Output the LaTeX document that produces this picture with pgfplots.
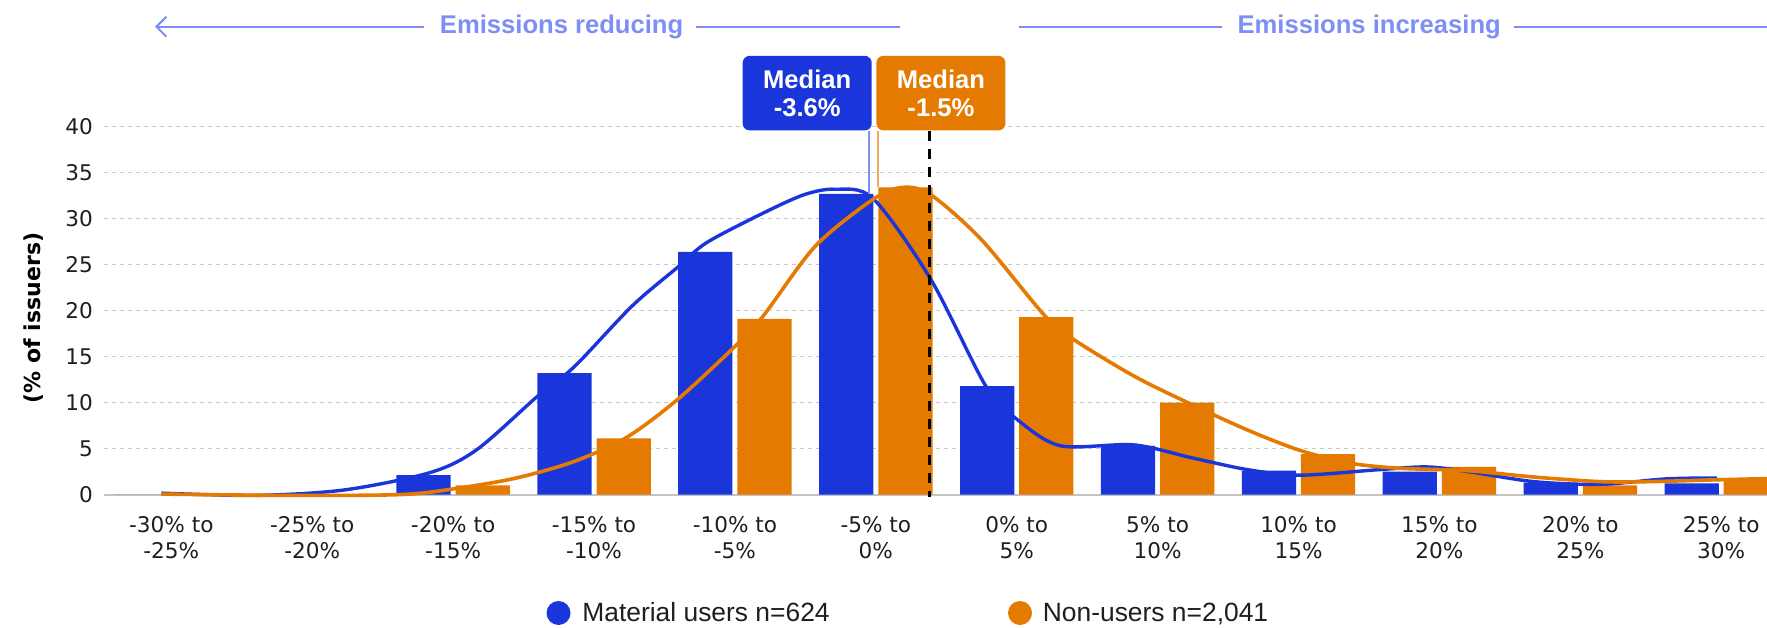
\documentclass[border=0pt]{standalone}
\usepackage{pgfplots}
\pgfplotsset{compat=1.18}
\usepackage{pgfplotstable}
\usepackage{fontspec}
\setmainfont{Liberation Sans}
\newfontfamily\dejavu{DejaVu Sans}
\usetikzlibrary{arrows.meta}
\definecolor{cblue}{RGB}{26,54,219}
\definecolor{corange}{RGB}{229,122,0}
\definecolor{chead}{RGB}{125,142,245}
\definecolor{cgrid}{RGB}{200,200,200}
\definecolor{caxis}{RGB}{195,195,195}
\definecolor{lblue}{RGB}{128,144,238}
\definecolor{lorange}{RGB}{240,170,100}
\definecolor{ctext}{RGB}{30,30,30}

\pgfplotstableread{
x blue orange
0  0    0
1  0    0
2  2.1  1.0
3  13.2 6.1
4  26.4 19.1
5  32.7 33.4
6  11.8 19.3
7  5.3  10.0
8  2.6  4.4
9  2.5  3.0
10 1.3  1.0
11 1.2  1.75
}\bars

\pgfplotstableread{
x y
-0.07 0.15
0.6 -0.1
1.23 0.5
1.84 2.4
2.17 4.9
2.6 10.7
2.86 13.9
3.27 20.5
3.6 24.8
3.8 27.4
4.2 30.6
4.49 32.6
4.71 33.2
4.98 32.2
5.39 23.4
5.78 11.8
6.0 8.2
6.31 5.3
6.83 5.4
7.24 4.0
7.64 2.7
8.01 2.1
8.57 2.7
8.91 3.0
9.2 2.5
9.67 1.4
10.14 1.1
10.61 1.7
10.97 1.8
}\bluecurve

\pgfplotstableread{
x y
-0.07 0.05
0.82 -0.1
1.64 0
2.04 0.7
2.45 1.8
2.86 3.6
3.23 6.2
3.59 10.3
4.0 16.1
4.2 19.4
4.57 27
4.98 32.1
5.19 33.4
5.39 32.6
5.75 27.7
6.19 19.6
6.39 17
6.83 12.9
7.24 9.8
7.64 7.0
8.01 4.8
8.37 3.4
8.72 2.85
9.19 2.6
9.67 1.9
10.14 1.4
10.5 1.4
10.97 1.6
11.4 1.75
}\orangecurve

\begin{document}
\begin{tikzpicture}
\begin{axis}[
  at={(0pt,0pt)}, anchor=south west,
  scale only axis, width=831.5pt, height=183.9pt,
  xmin=-0.478, xmax=11.325, ymin=0, ymax=40,
  clip=false,
  axis x line=bottom, axis y line=left,
  y axis line style={draw=none},
  x axis line style={-, draw=caxis, line width=1pt},
  xtick={0,...,11}, ytick={0,5,...,40},
  xticklabels={{-30\% to\\-25\%},{-25\% to\\-20\%},{-20\% to\\-15\%},{-15\% to\\-10\%},{-10\% to\\-5\%},{-5\% to\\0\%},{0\% to\\5\%},{5\% to\\10\%},{10\% to\\15\%},{15\% to\\20\%},{20\% to\\25\%},{25\% to\\30\%}},
  major tick length=0pt,
  ymajorgrids,
  grid style={cgrid, line width=0.6pt, dash pattern=on 2pt off 2pt},
  /pgf/number format/assume math mode=true,
  tick label style={font=\dejavu\fontsize{10.8}{13}\selectfont, text=ctext},
  xticklabel style={align=center, anchor=north, yshift=-7.5pt},
  yticklabel style={anchor=east, xshift=-2pt},
]
\addplot[ybar, bar width=0.385, bar shift=0pt, fill=cblue, draw=none]
  table[x expr=\thisrow{x}-0.21, y=blue] {\bars};
\addplot[ybar, bar width=0.385, bar shift=0pt, fill=corange, draw=none]
  table[x expr=\thisrow{x}+0.21, y=orange] {\bars};
\addplot[cblue, line width=1.7pt, smooth, tension=0.5, no marks] table[x=x,y=y] {\bluecurve};
\addplot[corange, line width=1.8pt, smooth, tension=0.5, no marks] table[x=x,y=y] {\orangecurve};

\draw[lblue, line width=0.8pt] (axis cs:4.952,39.5) -- (axis cs:4.952,32.7);
\draw[lorange, line width=0.8pt] (axis cs:5.016,39.5) -- (axis cs:5.016,33.4);
\draw[black, line width=1.3pt, dash pattern=on 5pt off 4pt] (axis cs:5.38,39.5) -- (axis cs:5.38,-0.3);

\node[fill=cblue, rounded corners=3.5pt, minimum width=64.5pt, minimum height=37.3pt, text=white, font=\bfseries\fontsize{12.8}{14}\selectfont, align=center, inner sep=0pt] at (axis cs:4.513,43.65) {Median\\-3.6\%};
\node[fill=corange, rounded corners=3.5pt, minimum width=64.5pt, minimum height=37.3pt, text=white, font=\bfseries\fontsize{12.8}{14}\selectfont, align=center, inner sep=0pt] at (axis cs:5.462,43.65) {Median\\-1.5\%};
\end{axis}

% y label
\node[rotate=90, font=\dejavu\bfseries\fontsize{11}{13}\selectfont, text=black] at (-35pt,88.25pt) {(\% of issuers)};

% header
\draw[chead, line width=1pt, -{Straight Barb[length=5pt,width=10pt]}] (159.8pt,233.9pt) -- (25.5pt,233.9pt);
\node[chead, font=\bfseries\fontsize{12.8}{14}\selectfont, anchor=base, inner sep=0pt] at (228.8pt,230.6pt) {Emissions reducing};
\draw[chead, line width=1pt] (295.9pt,233.9pt) -- (398pt,233.9pt);
\draw[chead, line width=1pt] (457.3pt,233.9pt) -- (559pt,233.9pt);
\node[chead, font=\bfseries\fontsize{12.8}{14}\selectfont, anchor=base, inner sep=0pt] at (632.6pt,230.6pt) {Emissions increasing};
\draw[chead, line width=1pt] (704.75pt,233.9pt) -- (831.5pt,233.9pt);

% legend
\fill[cblue] (227.25pt,-59.25pt) circle (6pt);
\node[anchor=base west, inner sep=0pt, font=\fontsize{13.2}{15}\selectfont, text=ctext] at (239pt,-63.5pt) {Material users n=624};
\fill[corange] (458pt,-59.25pt) circle (6pt);
\node[anchor=base west, inner sep=0pt, font=\fontsize{13.2}{15}\selectfont, text=ctext] at (469.25pt,-63.5pt) {Non-users n=2,041};

\pgfresetboundingbox
\path[use as bounding box] (-52pt,-66.25pt) rectangle (831.5pt,247.25pt);
\end{tikzpicture}
\end{document}
